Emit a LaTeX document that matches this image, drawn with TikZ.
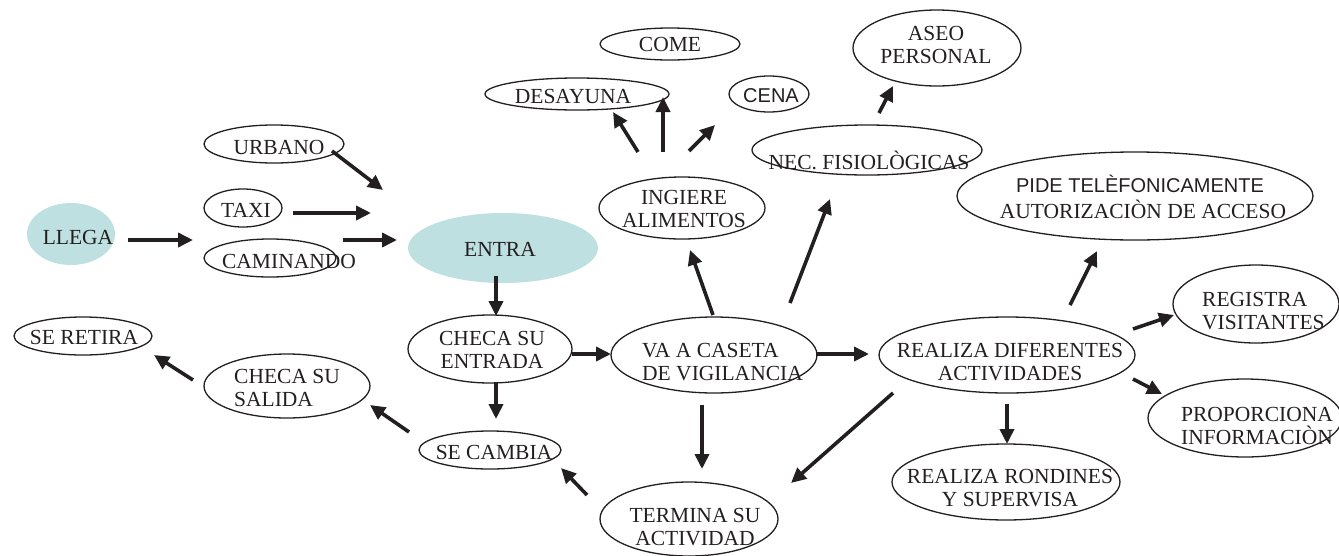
\documentclass[tikz,border=0pt]{standalone}
\usepackage{fontspec}
\setmainfont{Liberation Serif}
\newfontfamily\sansf{Liberation Sans}
\usetikzlibrary{shapes.geometric,arrows.meta}
\definecolor{teal1}{RGB}{191,224,224}
\definecolor{ink}{RGB}{35,31,32}
\tikzset{
  ell/.style={draw=ink,line width=1.3pt,ellipse,inner sep=0pt},
  fell/.style={fill=teal1,draw=none,ellipse,inner sep=0pt},
  txt/.style={text=ink,inner sep=0pt,align=center,font=\fontsize{21.5}{23.5}\selectfont},
  stxt/.style={text=ink,inner sep=0pt,align=center,font=\sansf\fontsize{20}{23.5}\selectfont},
  arr/.style={draw=ink,line width=3.6pt,-{Triangle[length=15pt,width=14pt]}},
}
\begin{document}
\begin{tikzpicture}[x=1pt,y=-1pt]
\useasboundingbox (0,0) rectangle (1339,555);
% ellipses
\node[fell,minimum width=88,minimum height=62] (llega) at (71,234) {};
\node[ell,minimum width=140,minimum height=38] (urbano) at (274,144) {};
\node[ell,minimum width=78,minimum height=38] (taxi) at (243,208) {};
\node[ell,minimum width=132,minimum height=38] (caminando) at (270,258) {};
\node[fell,minimum width=190,minimum height=70] (entra) at (503,248) {};
\node[ell,minimum width=164,minimum height=68] (chent) at (490,349) {};
\node[ell,minimum width=206,minimum height=76] (caseta) at (714,355) {};
\node[ell,minimum width=256,minimum height=76] (realiza) at (1007,355) {};
\node[ell,minimum width=166,minimum height=62] (ingiere) at (682,208) {};
\node[ell,minimum width=230,minimum height=50] (nec) at (867,150) {};
\node[ell,minimum width=168,minimum height=76] (aseo) at (937,48) {};
\node[ell,minimum width=140,minimum height=32] (come) at (670,44) {};
\node[ell,minimum width=184,minimum height=32] (desayuna) at (577,94) {};
\node[ell,minimum width=80,minimum height=36] (cena) at (769,94) {};
\node[ell,minimum width=356,minimum height=88] (pide) at (1135,196) {};
\node[ell,minimum width=166,minimum height=78] (registra) at (1256,304) {};
\node[ell,minimum width=194,minimum height=78] (proporciona) at (1245,418) {};
\node[ell,minimum width=228,minimum height=76] (rondines) at (1006,482) {};
\node[ell,minimum width=178,minimum height=74] (termina) at (689,519) {};
\node[ell,minimum width=142,minimum height=38] (secambia) at (490,450) {};
\node[ell,minimum width=166,minimum height=64] (salida) at (287,386) {};
\node[ell,minimum width=138,minimum height=38] (retira) at (83,336) {};
% texts
\node[txt] (tllega) at (78,237) {LLEGA};
\node[txt] (turbano) at (279,147) {URBANO};
\node[txt] (ttaxi) at (246,210) {TAXI};
\node[txt] (tcaminando) at (289,261) {CAMINANDO};
\node[txt] (tentra) at (500,249) {ENTRA};
\node[txt] (tchent) at (492,350) {CHECA SU\\ENTRADA};
\node[txt,align=left,anchor=west] (tcaseta) at (642,362) {VA A CASETA\\DE VIGILANCIA};
\node[txt] (trealiza) at (1010,362) {REALIZA DIFERENTES\\ACTIVIDADES};
\node[txt] (tingiere) at (684,209) {INGIERE\\ALIMENTOS};
\node[txt] (tnec) at (869,160) {NEC. FISIOLÒGICAS};
\node[txt] (taseo) at (936,45) {ASEO\\PERSONAL};
\node[txt] (tcome) at (670,44) {COME};
\node[txt] (tdesayuna) at (573,96) {DESAYUNA};
\node[stxt] (tcena) at (771,96) {CENA};
\node[stxt] (tpide1) at (1140,184) {PIDE TELÈFONICAMENTE};
\node[txt] (tpide2) at (1143,209) {AUTORIZACIÒN DE ACCESO};
\node[txt,align=left,anchor=west] (tregistra) at (1202,311) {REGISTRA\\VISITANTES};
\node[txt] (tproporciona) at (1257,426) {PROPORCIONA\\INFORMACIÒN};
\node[txt] (trondines) at (1010,488) {REALIZA RONDINES\\Y SUPERVISA};
\node[txt] (ttermina) at (695,527) {TERMINA SU\\ACTIVIDAD};
\node[txt] (tsecambia) at (494,452) {SE CAMBIA};
\node[txt,align=left,anchor=west] (tsalida) at (234,388) {CHECA SU\\SALIDA};
\node[txt] (tretira) at (84,337) {SE RETIRA};
% arrow end points
\coordinate (a1s) at (128,240); \coordinate (a1e) at (193,240);
\coordinate (a2s) at (332,151); \coordinate (a2e) at (383,190);
\coordinate (a3s) at (293,213); \coordinate (a3e) at (371,213);
\coordinate (a4s) at (343,240); \coordinate (a4e) at (397,240);
\coordinate (a5s) at (496,276); \coordinate (a5e) at (496,316);
\coordinate (a6s) at (572,354); \coordinate (a6e) at (611,354);
\coordinate (a7s) at (496,382); \coordinate (a7e) at (496,419);
\coordinate (a8s) at (409,432); \coordinate (a8e) at (370,405);
\coordinate (a9s) at (193,380); \coordinate (a9e) at (154,355);
\coordinate (a10s) at (587,495); \coordinate (a10e) at (561,468);
\coordinate (a11s) at (702,405); \coordinate (a11e) at (702,469);
\coordinate (a12s) at (713,315); \coordinate (a12e) at (690,250);
\coordinate (a13s) at (790,303); \coordinate (a13e) at (830,199);
\coordinate (a14s) at (816,354); \coordinate (a14e) at (869,354);
\coordinate (a15s) at (638,152); \coordinate (a15e) at (613,112);
\coordinate (a16s) at (663,152); \coordinate (a16e) at (663,97);
\coordinate (a17s) at (689,151); \coordinate (a17e) at (715,125);
\coordinate (a18s) at (879,113); \coordinate (a18e) at (893,86);
\coordinate (a19s) at (1070,305); \coordinate (a19e) at (1097,251);
\coordinate (a20s) at (1133,329); \coordinate (a20e) at (1174,315);
\coordinate (a21s) at (1133,379); \coordinate (a21e) at (1162,394);
\coordinate (a22s) at (1007,404); \coordinate (a22e) at (1007,444);
\coordinate (a23s) at (893,393); \coordinate (a23e) at (791,483);
% arrows
\foreach \i in {1,...,23} {\draw[arr] (a\i s) -- (a\i e);}
\end{tikzpicture}
\end{document}
